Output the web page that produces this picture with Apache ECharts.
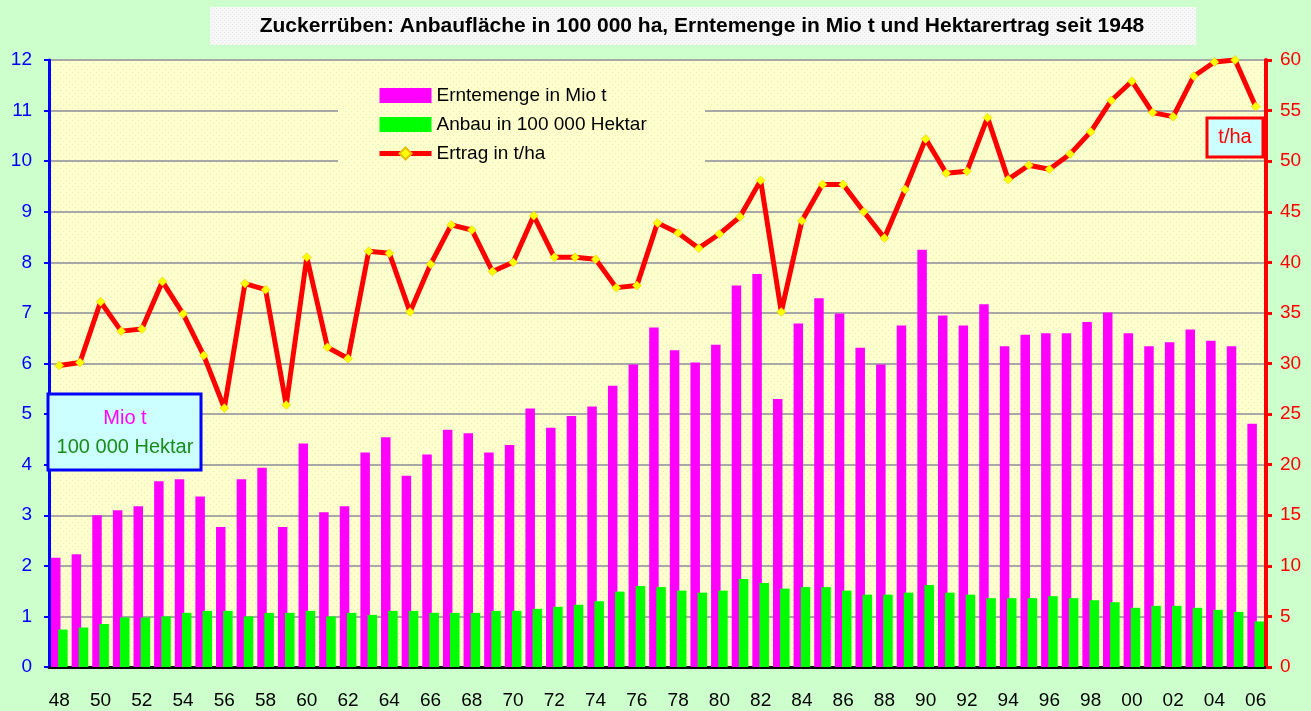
<!DOCTYPE html>
<html>
<head>
<meta charset="utf-8">
<script src="https://cdn.jsdelivr.net/npm/echarts@6/dist/echarts.min.js"></script>
<style>
html,body{margin:0;padding:0;background:#CCFFCC;}
#c{width:1311px;height:711px;}
</style>
</head>
<body>
<div id="c"></div>
<script>
const years = ['48','49','50','51','52','53','54','55','56','57','58','59','60','61','62','63','64','65','66','67','68','69','70','71','72','73','74','75','76','77','78','79','80','81','82','83','84','85','86','87','88','89','90','91','92','93','94','95','96','97','98','99','00','01','02','03','04','05','06'];
const erntemenge = [2.16,2.23,3.0,3.1,3.18,3.67,3.71,3.37,2.77,3.71,
  3.94,2.77,4.42,3.06,3.18,4.24,4.54,3.78,4.2,4.69,
  4.62,4.24,4.39,5.11,4.73,4.96,5.15,5.56,5.98,6.71,
  6.26,6.02,6.37,7.54,7.77,5.3,6.79,7.29,6.99,6.31,
  5.98,6.75,8.25,6.95,6.75,7.17,6.34,6.57,6.6,6.6,
  6.82,7.01,6.6,6.34,6.42,6.67,6.45,6.34,4.81];
const anbau = [0.74,0.78,0.85,0.98,0.98,1.0,1.07,1.11,1.11,1.0,
  1.07,1.07,1.11,1.0,1.07,1.03,1.11,1.11,1.07,1.07,
  1.07,1.11,1.11,1.15,1.19,1.23,1.3,1.49,1.6,1.58,
  1.51,1.47,1.51,1.74,1.66,1.55,1.58,1.58,1.51,1.43,
  1.43,1.47,1.62,1.47,1.43,1.36,1.36,1.36,1.4,1.36,
  1.32,1.28,1.17,1.21,1.21,1.17,1.13,1.09,0.9];
const ertrag = [29.8,30.1,36.1,33.2,33.4,38.1,34.9,30.8,25.6,37.9,
  37.3,25.9,40.5,31.6,30.5,41.1,40.9,35.1,39.8,43.7,
  43.2,39.1,40.0,44.6,40.5,40.5,40.3,37.5,37.7,43.9,
  42.9,41.4,42.8,44.5,48.1,35.1,44.1,47.7,47.7,45.0,
  42.4,47.2,52.2,48.8,49.0,54.3,48.2,49.6,49.2,50.7,
  52.9,56.0,57.9,54.8,54.4,58.4,59.8,60.0,55.4];
const titleText = 'Zuckerrüben: Anbaufläche in 100 000 ha, Erntemenge in Mio t und Hektarertrag seit 1948';
const nameErnte = 'Erntemenge in Mio t';
const nameAnbau = 'Anbau in 100 000 Hektar';
const nameErtrag = 'Ertrag in t/ha';

const FONT = '"Liberation Sans", Arial, sans-serif';
const chart = echarts.init(document.getElementById('c'), null, {renderer:'canvas'});

// dotted pattern for the plot background
const pc = document.createElement('canvas');
pc.width = 6; pc.height = 6;
const pctx = pc.getContext('2d');
pctx.fillStyle = '#FFFFCC'; pctx.fillRect(0,0,6,6);
pctx.fillStyle = '#D8F2C8'; pctx.fillRect(0,0,1,1); pctx.fillRect(3,3,1,1);

const tc = document.createElement('canvas');
tc.width = 4; tc.height = 4;
const tctx = tc.getContext('2d');
tctx.fillStyle = '#F7F7F7'; tctx.fillRect(0,0,4,4);
tctx.fillStyle = '#E6E6E6'; tctx.fillRect(0,0,1,1); tctx.fillRect(2,2,1,1);

const option = {
  backgroundColor: '#CCFFCC',
  animation: false,
  textStyle: {fontFamily: FONT},
  grid: {left: 49, right: 45, top: 60, bottom: 44, show: true, backgroundColor: {image: pc, repeat: 'repeat'}, borderWidth: 0},
  legend: {
    orient: 'vertical', left: 377, top: 86, padding: 0, itemWidth: 52, itemHeight: 15, itemGap: 10,
    textStyle: {fontSize: 19, color: '#000', fontFamily: FONT, lineHeight: 19},
    data: [{name: nameErnte, icon: 'rect'}, {name: nameAnbau, icon: 'rect'},
           {name: nameErtrag, lineStyle: {width: 5, color: '#FF0000'}}]
  },
  xAxis: {
    type: 'category', data: years,
    axisLine: {lineStyle: {color: '#000', width: 3}},
    axisTick: {interval: 0, length: 7, lineStyle: {color: '#000', width: 3}},
    axisLabel: {interval: 1, color: '#000', fontSize: 19, margin: 24, fontFamily: FONT},
    splitLine: {show: false}
  },
  yAxis: [
    {type: 'value', min: 0, max: 12, interval: 1, position: 'left',
     axisLine: {show: true, lineStyle: {color: '#0000FF', width: 3}},
     axisTick: {show: true, length: 5, lineStyle: {color: '#0000FF', width: 2}},
     axisLabel: {color: '#0000FF', fontSize: 19, margin: 17, fontFamily: FONT},
     splitLine: {show: true, lineStyle: {color: '#A8A8A8', width: 2}}},
    {type: 'value', min: 0, max: 60, interval: 5, position: 'right',
     axisLine: {show: true, lineStyle: {color: '#FF0000', width: 4}},
     axisTick: {show: true, length: 6, lineStyle: {color: '#FF0000', width: 3}},
     axisLabel: {color: '#FF0000', fontSize: 19, margin: 14, fontFamily: FONT},
     splitLine: {show: false}}
  ],
  graphic: [
    {type: 'rect', z: 1, shape: {x: 338, y: 72, width: 367, height: 112}, style: {fill: {image: pc, repeat: 'repeat'}}},
    {type: 'rect', z: 1, shape: {x: 210, y: 7, width: 986, height: 38}, style: {fill: {image: tc, repeat: 'repeat'}}},
    {type: 'text', z: 2, x: 702, y: 26, style: {text: titleText, font: 'bold 21px ' + FONT, fill: '#000', align: 'center', verticalAlign: 'middle'}},
    {type: 'rect', z: 10, shape: {x: 48, y: 394, width: 153, height: 76}, style: {fill: '#CCFFFF', stroke: '#0000FF', lineWidth: 3}},
    {type: 'text', z: 11, x: 125, y: 418, style: {text: 'Mio t', font: '20px ' + FONT, fill: '#FF00FF', align: 'center', verticalAlign: 'middle'}},
    {type: 'text', z: 11, x: 125, y: 447, style: {text: '100 000 Hektar', font: '20px ' + FONT, fill: '#1A8C1A', align: 'center', verticalAlign: 'middle'}},
    {type: 'rect', z: 10, shape: {x: 1207, y: 118, width: 56, height: 39}, style: {fill: '#CCFFFF', stroke: '#FF0000', lineWidth: 3}},
    {type: 'text', z: 11, x: 1235, y: 137, style: {text: 't/ha', font: '20px ' + FONT, fill: '#FF0000', align: 'center', verticalAlign: 'middle'}}
  ],
  series: [
    {name: nameErnte, type: 'bar', data: erntemenge, yAxisIndex: 0, barWidth: 9.5, barGap: '-25%',
     itemStyle: {color: '#FF00FF'}, z: 2},
    {name: nameAnbau, type: 'bar', data: anbau, yAxisIndex: 0, barWidth: 9.5, barGap: '-25%',
     itemStyle: {color: '#00FF00'}, z: 3},
    {name: nameErtrag, type: 'line', data: ertrag, yAxisIndex: 1,
     lineStyle: {color: '#FF0000', width: 5}, itemStyle: {color: '#FFFF00', borderColor: '#E0C000', borderWidth: 0.5},
     symbol: 'diamond', symbolSize: 9, showSymbol: true, z: 5}
  ]
};
chart.setOption(option);
</script>
</body>
</html>
